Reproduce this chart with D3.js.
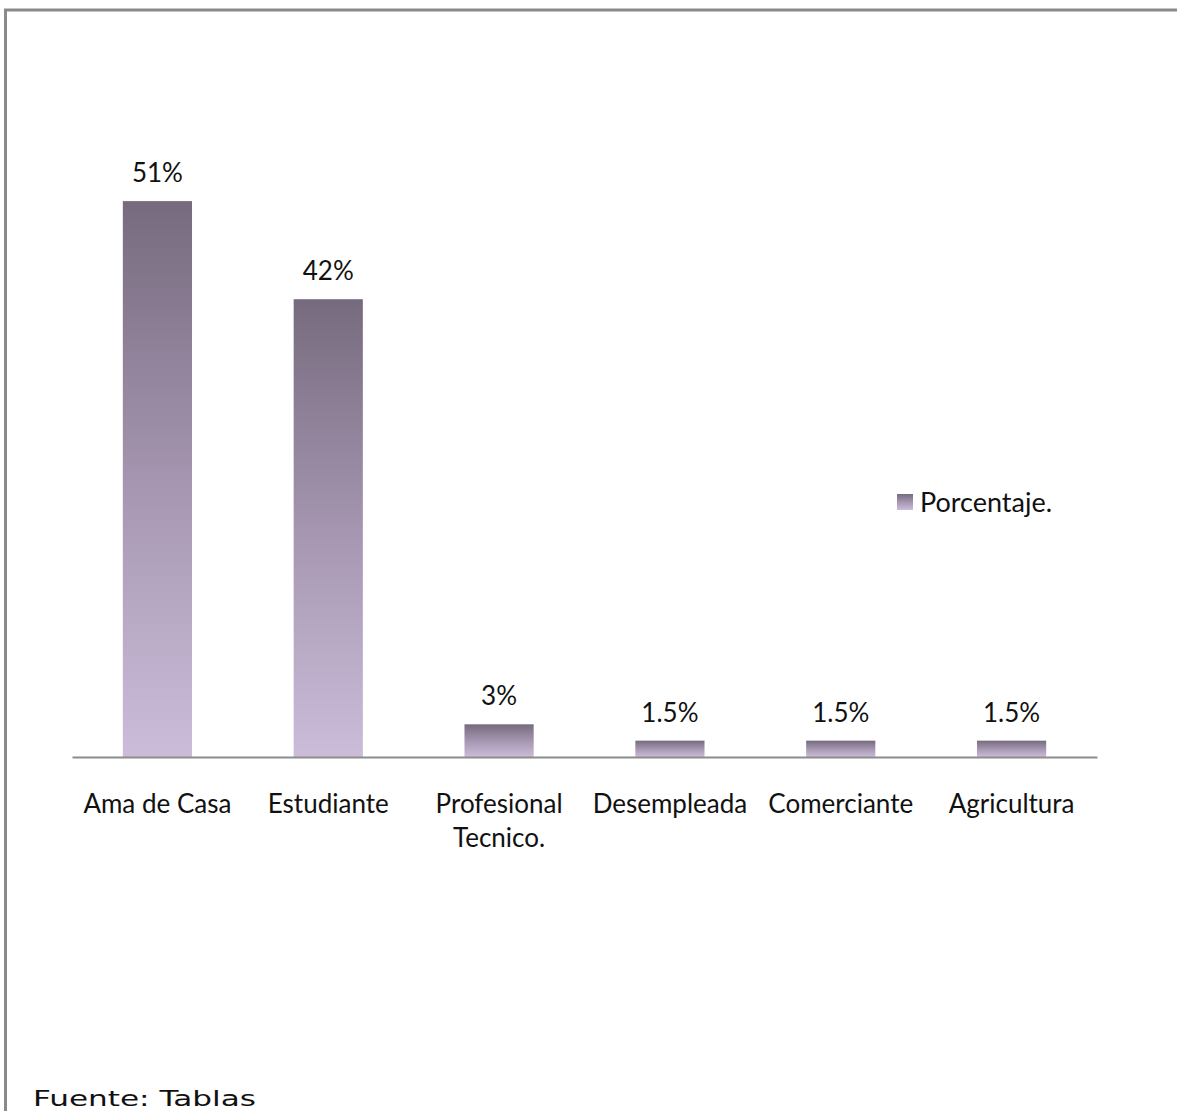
<!DOCTYPE html>
<html>
<head>
<meta charset="utf-8">
<script src="https://cdn.jsdelivr.net/npm/d3@7"></script>
<style>
  html, body { margin: 0; padding: 0; background: #fff; }
  svg { display: block; }
</style>
</head>
<body>
<svg id="chart" width="1177" height="1111"></svg>
<script>
// Ocupación de las participantes (porcentaje)
const categories = [["Ama de Casa"], ["Estudiante"], ["Profesional", "Tecnico."], ["Desempleada"], ["Comerciante"], ["Agricultura"]];
const values = [51, 42, 3, 1.5, 1.5, 1.5];
const valueLabels = ["51%", "42%", "3%", "1.5%", "1.5%", "1.5%"];
const seriesName = "Porcentaje.";
const sourceNote = "Fuente: Tablas";

const svg = d3.select("#chart");
const font = "Lato, 'Open Sans', sans-serif";

// Frame
svg.append("path")
  .attr("d", "M5.5,1111 L5.5,10 L1177,10")
  .attr("fill", "none")
  .attr("stroke", "#8a8a8a")
  .attr("stroke-width", 3);

const defs = svg.append("defs");
const grad = defs.append("linearGradient")
  .attr("id", "barGrad")
  .attr("x1", 0).attr("y1", 0).attr("x2", 0).attr("y2", 1);
grad.append("stop").attr("offset", "0%").attr("stop-color", "#766b7e");
grad.append("stop").attr("offset", "50%").attr("stop-color", "#a595b0");
grad.append("stop").attr("offset", "100%").attr("stop-color", "#cbbdda");

const x = d3.scaleBand()
  .domain(d3.range(categories.length))
  .range([72, 1097])
  .paddingInner(0.595)
  .paddingOuter(0.2975);

const y = d3.scaleLinear().domain([0, 60]).range([757, 103]);

// Bars
svg.selectAll("rect.bar")
  .data(values)
  .join("rect")
  .attr("class", "bar")
  .attr("x", (d, i) => x(i))
  .attr("width", x.bandwidth())
  .attr("y", d => y(d))
  .attr("height", d => y(0) - y(d))
  .attr("fill", "url(#barGrad)");

// Value labels
svg.selectAll("text.val")
  .data(values)
  .join("text")
  .attr("class", "val")
  .attr("x", (d, i) => x(i) + x.bandwidth() / 2)
  .attr("y", d => y(d) - 19)
  .attr("text-anchor", "middle")
  .attr("font-family", font)
  .attr("font-size", 26)
  .attr("fill", "#111")
  .text((d, i) => valueLabels[i]);

// Category axis
const axis = svg.append("g")
  .attr("transform", `translate(0,${y(0)})`)
  .call(d3.axisBottom(x).tickSize(0).tickFormat(""));
axis.select(".domain").attr("stroke", "#8c8c8c").attr("stroke-width", 2);

const catText = svg.selectAll("text.cat")
  .data(categories)
  .join("text")
  .attr("class", "cat")
  .attr("x", (d, i) => x(i) + x.bandwidth() / 2)
  .attr("y", 813)
  .attr("text-anchor", "middle")
  .attr("font-family", font)
  .attr("font-size", 26)
  .attr("fill", "#111");
catText.selectAll("tspan")
  .data(d => d)
  .join("tspan")
  .attr("x", function () { return d3.select(this.parentNode).attr("x"); })
  .attr("dy", (d, j) => j === 0 ? 0 : 34)
  .text(d => d);

// Legend
const legend = svg.append("g").attr("transform", "translate(897,494)");
legend.append("rect")
  .attr("width", 16).attr("height", 16)
  .attr("fill", "url(#barGrad)");
legend.append("text")
  .attr("x", 23).attr("y", 18)
  .attr("font-family", font)
  .attr("font-size", 27)
  .attr("fill", "#111")
  .text(seriesName);

// Source note
svg.append("text")
  .attr("x", 33).attr("y", 1106)
  .attr("font-family", "'DejaVu Sans', Verdana, sans-serif")
  .attr("font-size", 22)
  .attr("textLength", 223)
  .attr("lengthAdjust", "spacingAndGlyphs")
  .attr("fill", "#111")
  .text(sourceNote);
</script>
</body>
</html>
